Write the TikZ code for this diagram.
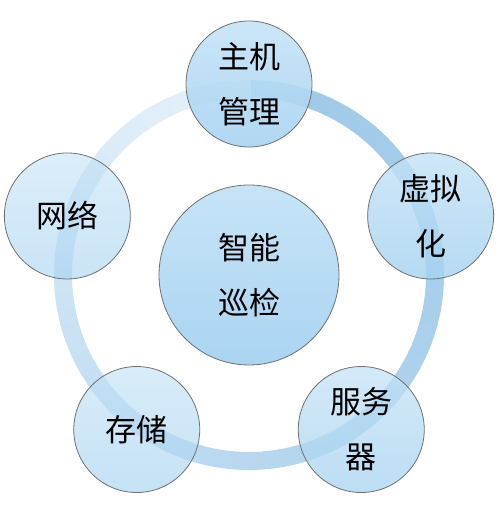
\documentclass[tikz,border=0pt]{standalone}
\usepackage{fontspec}
\newfontfamily\cjkfont{Noto Sans CJK SC}
\usetikzlibrary{positioning}
\definecolor{ringdark}{RGB}{160,202,233}
\definecolor{ringlight}{RGB}{233,243,251}
\definecolor{bubbletop}{RGB}{196,226,246}
\definecolor{bubblebot}{RGB}{166,210,240}
\definecolor{bubbleline}{RGB}{112,112,112}

\begin{document}
\begin{tikzpicture}[x=0.5pt, y=0.5pt,
  bubble/.style={circle, draw=bubbleline, line width=0.4pt,
    top color=bubbletop, bottom color=bubblebot, text opacity=1,
    minimum size=63pt, inner sep=0pt, align=center,
    font=\cjkfont\fontsize{15.5}{27.5}\selectfont}]
  \useasboundingbox (0,0) rectangle (503,513);
  \coordinate (hub) at (249,238);

  % ring, darker at the top going clockwise
  \foreach \i in {0,...,71} {
    \pgfmathsetmacro\mix{100*(1-(\i/71)^1.6)}
    \pgfmathsetmacro\sa{90-5*\i}
    \pgfmathsetmacro\ea{90-5*(\i+1)-0.6}
    \draw[line width=9pt, ringdark!\mix!ringlight]
      ([shift={(\sa:93pt)}]hub) arc[start angle=\sa, end angle=\ea, radius=93pt];
  }

  \node[bubble, minimum size=90pt, fill opacity=0.95] (center) at (hub) {智能\\巡检};

  \node[bubble, fill opacity=0.88] (host)    at ([shift={(90:191)}]hub)   {主机\\管理};
  \node[bubble, fill opacity=0.82] (virt)    at ([shift={(18:191)}]hub)   {虚拟\\化};
  \node[bubble, fill opacity=0.75] (server)  at ([shift={(-54:191)}]hub)  {服务\\器};
  \node[bubble, fill opacity=0.65] (storage) at ([shift={(-126:191)}]hub) {存储};
  \node[bubble, fill opacity=0.6]  (network) at ([shift={(162:191)}]hub)  {网络};
\end{tikzpicture}
\end{document}
